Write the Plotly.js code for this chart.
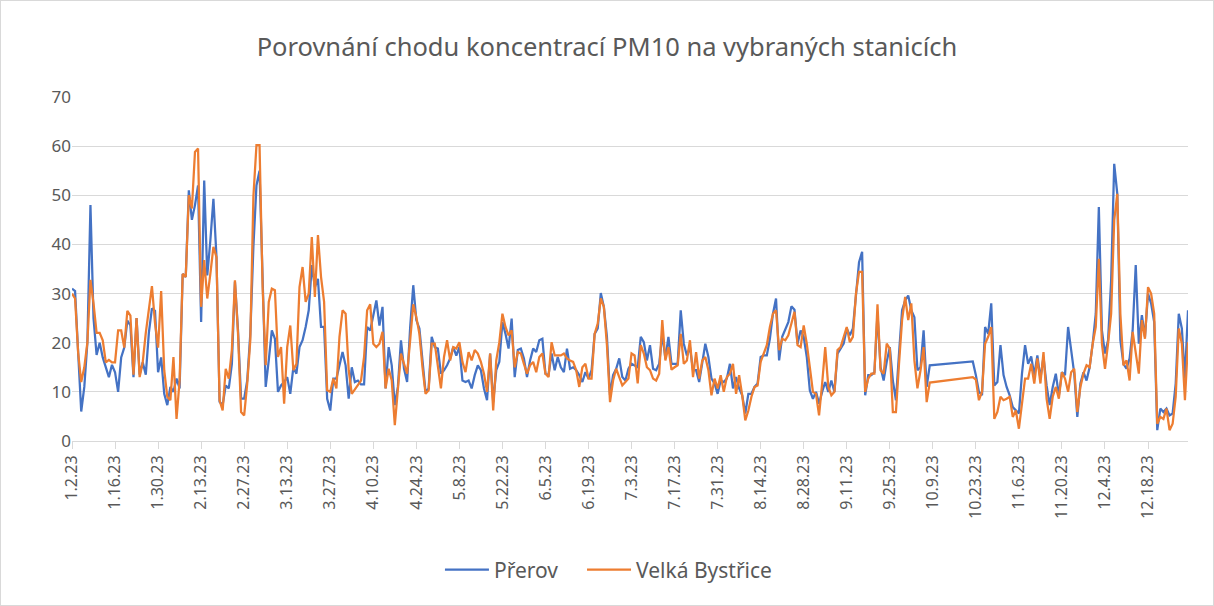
<!DOCTYPE html>
<html>
<head>
<meta charset="utf-8">
<script src="https://cdn.plot.ly/plotly-3.0.1.min.js"></script>
<style>
  html, body { margin: 0; padding: 0; background: #ffffff; }
  #frame { width: 1214px; height: 606px; box-sizing: border-box; border: 1px solid #d9d9d9; position: relative; overflow: hidden; }
  #chart { position: absolute; left: -1px; top: -1px; width: 1214px; height: 606px; }
</style>
</head>
<body>
<div id="frame"><div id="chart"></div></div>
<script>
// ---- Data (PM10 daily concentrations, µg/m3) ----
const seriesNames = ["Přerov", "Velká Bystřice"];
const startDateA = "2023-01-02";   // first day of first block
const startDateB = "2023-10-22";   // first day after the data gap

// Přerov, Jan 2 – Oct 8
const prerovJan = [31, 30.5, 18, 6, 11, 20, 48, 25, 17.5, 20, 17, 15, 13, 15.5, 14, 10, 17, 19, 24.5, 23.5, 13, 25, 13.5, 16, 13.5, 22, 27, 26.5, 14, 17, 9.6];
const prerovFeb = [7.3, 11, 10, 12.7, 10.7, 34, 33.4, 51, 45, 48, 52, 24.2, 53, 33.7, 40.8, 49.3, 37.4, 8, 7.3, 11.3, 10.7, 15.7, 32.4, 22.5, 8.6, 8.6, 12.3, 21.8, 39.5, 52];
const prerovMar = [55, 30, 11, 16.4, 22.5, 20.8, 10, 11.3, 12, 13, 9.6, 15, 13.7, 19.1, 20.5, 23.2, 26.6, 35.8, 31.3, 33, 23.2, 23.2, 8.6, 6.2, 12.7, 12.7, 15.7, 18.1, 15.4];
const prerovApr = [8.6, 15, 12, 12.3, 11.5, 11.5, 23.2, 22.5, 25.9, 28.6, 23.5, 27.3, 10.7, 19.1, 15.4, 7.3, 11, 20.5, 14.7, 12, 23.2, 31.7, 24.6, 22.9, 16.4, 10, 10.7, 21.2, 19.1, 18.8, 13.7];
const prerovMay = [14.4, 15.4, 16.8, 19.1, 17.4, 19.1, 12.3, 12, 12.3, 10.7, 13.4, 15.4, 14.4, 10.7, 8.3, 17.8, 7.9, 14.4, 16.1, 24.2, 21.8, 18.8, 24.9, 13, 18.5, 18.8, 16.8, 13, 16.4, 18.8];
const prerovJun = [18.1, 20.5, 20.8, 13.7, 13.4, 17.8, 14.4, 17.1, 15, 14, 18.8, 14.7, 15, 14.4, 13.4, 12, 14, 12.7, 14.4, 21.8, 22.9, 30.1, 27.3, 21.2, 9.3, 13.4, 14.7, 16.8, 13, 12.3];
const prerovJul = [14.7, 15.7, 15.4, 15, 21.2, 20.1, 16.4, 19.5, 14.7, 14.4, 15.7, 21.8, 16.8, 21.2, 15.7, 15.7, 15.7, 26.6, 19.8, 17.4, 19.1, 14.4, 14.4, 12, 15.7, 19.8, 17.1, 12.7, 11.7, 9.6];
const prerovAug = [12.3, 12, 12.7, 15.7, 10.7, 13, 10.7, 9.3, 5.6, 9.6, 9.6, 11, 11.7, 17.1, 17.4, 17.4, 20.8, 25.9, 29, 16.4, 21.2, 22.9, 24.2, 27.4, 26.7, 19.8, 22.5, 21.2, 17.1, 10.3];
const prerovSep = [8.6, 10, 7.6, 10, 12, 10, 12.3, 10, 17.8, 18.8, 19.8, 22.9, 21.5, 22.9, 29.6, 36.4, 38.5, 9.3, 13.4, 13.4, 14, 25.9, 15, 12.3, 16.1, 19.1, 12.3, 8.3, 17.8, 26.6];
const prerovOct = [28.6, 29.6, 26.6, 25.2, 14.4, 15, 22.5, 11, 15.4];
// Přerov, Oct 22 – Dec 31
const prerovOctLate = [16.2, 13.4, 10, 9.3, 23.2, 21.8, 28, 11.3];
const prerovNov = [12, 19.5, 13.4, 11, 9.3, 6.9, 6.2, 5.6, 13.7, 19.5, 15.7, 17.2, 13.4, 17.4, 12.7, 17.1, 11.3, 7.3, 11, 13.7, 9.3, 14, 13.4, 23.2, 18.5, 13.7, 4.9, 11.7, 14, 12.3];
const prerovDec = [15, 19.8, 25.9, 47.6, 22.5, 17.8, 20.5, 32.7, 56.4, 50.3, 20.5, 15.7, 14.7, 16.8, 22.5, 35.8, 19.8, 25.6, 21.2, 30, 28, 24.2, 2.2, 6.6, 5.9, 6.6, 5.2, 5.6, 11.7, 25.9, 22.9, 12.7, 26.6];

// Velká Bystřice, Jan 2 – Oct 8
const bystriceJan = [30, 29, 18, 12, 15, 20, 32.8, 28, 22, 22, 20.5, 16, 16.5, 16, 16, 22.5, 22.5, 19, 26.5, 25.5, 13.5, 25, 13, 16, 22, 27, 31.5, 24, 19, 30.5, 14.4];
const bystriceFeb = [9, 8.3, 17.1, 4.5, 12.3, 34, 33.4, 50, 47.3, 58.8, 59.5, 27.3, 36.8, 29, 34, 39.5, 37.4, 8.3, 6.2, 14.7, 12.7, 18.5, 32.7, 21.8, 5.9, 5.2, 11.7, 20.5, 49.7, 60.2];
const bystriceMar = [60.2, 31.3, 15.4, 28.3, 31, 30.7, 17.1, 19.1, 7.6, 19.1, 23.5, 14.4, 15.7, 31.3, 35.4, 28.3, 30, 41.5, 29.3, 41.9, 33.4, 28.3, 10.3, 10, 12.7, 10.7, 21.2, 26.6, 25.9];
const bystriceApr = [14.4, 9.6, 10.5, 11.3, 12.3, 17.1, 26.6, 27.8, 19.8, 19.1, 19.8, 22.2, 10.7, 14.7, 12.3, 3.2, 10.3, 17.8, 15.7, 13.7, 20.5, 27.8, 25.2, 21.8, 15, 9.6, 10.3, 19.8, 19.8, 15.7, 10.7];
const bystriceMay = [17.1, 20.5, 16.4, 19.1, 18.8, 20.1, 16.1, 14, 18.1, 16.4, 18.5, 17.8, 16.1, 13.7, 10, 17.8, 6.2, 16.4, 20.1, 25.9, 23.2, 21.5, 22.5, 15, 18.1, 17.8, 15.7, 13.7, 15.4, 16.1];
const bystriceJun = [14, 17.1, 17.8, 13.7, 13, 20.1, 17.4, 17.4, 17.4, 17.8, 16.8, 16.4, 16.1, 14.4, 11, 15, 15.7, 12.7, 12.7, 21.8, 23.9, 29, 27.3, 19.5, 7.9, 12.3, 14.7, 13, 11.3, 12];
const bystriceJul = [12.7, 17.8, 17.4, 11.7, 19.5, 17.8, 15, 14.4, 12.7, 12.3, 13.7, 24.6, 16.4, 19.1, 14.5, 15, 15.4, 21.8, 15.7, 16.4, 20.5, 13, 18.1, 12.7, 16.4, 17.1, 14.4, 9.3, 12.7, 10.7];
const bystriceAug = [13.4, 10, 13, 13.7, 15.7, 9.6, 13.4, 9.3, 4.2, 6.2, 9, 11, 11.3, 16.1, 17.8, 19.5, 23.2, 25.9, 26.6, 18.5, 20.8, 20.5, 21.5, 23.9, 26.3, 19.5, 19.1, 23.5, 19.8, 15];
const bystriceSep = [10, 9.6, 5.2, 11.7, 19.1, 11, 9.3, 10, 18.5, 19.1, 21.2, 23.2, 20.1, 21.2, 30, 34.4, 34.4, 10, 12.7, 13.7, 13.7, 27.8, 14.4, 13.7, 19.8, 18.8, 5.9, 5.9, 15.7, 24.6];
const bystriceOct = [29.3, 24.6, 28, 16.4, 10.7, 14.4, 19.1, 7.9, 11.9];
// Velká Bystřice, Oct 22 – Dec 31
const bystriceOctLate = [13, 12.5, 8.3, 10, 19.8, 21.2, 23.2, 4.5];
const bystriceNov = [5.9, 9, 8.3, 8.6, 9, 4.9, 6.2, 2.5, 8.3, 12.7, 12.7, 15.7, 11.7, 16.8, 11.7, 18.1, 8.6, 4.5, 9, 11, 8.6, 14, 12.7, 10, 14, 14.7, 5.9, 11, 13.7, 15.4];
const bystriceDec = [15, 19.8, 23.2, 37.1, 19.8, 14.7, 19.8, 25.9, 44.9, 50.3, 25.9, 15.4, 16.4, 12.3, 22.2, 17.8, 13.7, 24.6, 20.8, 31.3, 30, 25.9, 3.5, 4.9, 4.5, 6.6, 2.2, 3.5, 9, 22.9, 19.8, 8.3, 20.1];

const yTicks = [0, 10, 20, 30, 40, 50, 60, 70];

// ---- Build series ----
const prerovA = [].concat(prerovJan, prerovFeb, prerovMar, prerovApr, prerovMay, prerovJun, prerovJul, prerovAug, prerovSep, prerovOct);
const prerovB = [].concat(prerovOctLate, prerovNov, prerovDec);
const bystriceA = [].concat(bystriceJan, bystriceFeb, bystriceMar, bystriceApr, bystriceMay, bystriceJun, bystriceJul, bystriceAug, bystriceSep, bystriceOct);
const bystriceB = [].concat(bystriceOctLate, bystriceNov, bystriceDec);

function dayList(start, n) {
  const out = [];
  const base = new Date(start + "T00:00:00Z").getTime();
  for (let i = 0; i < n; i++) {
    out.push(new Date(base + i * 86400000).toISOString().slice(0, 10));
  }
  return out;
}
const datesA = dayList(startDateA, prerovA.length);
const datesB = dayList(startDateB, prerovB.length);
const dates = datesA.concat(datesB);

const traces = [
  { x: dates, y: prerovA.concat(prerovB), name: seriesNames[0], type: "scatter", mode: "lines",
    line: { color: "#4472C4", width: 2.25 }, legend: "legend" },
  { x: dates, y: bystriceA.concat(bystriceB), name: seriesNames[1], type: "scatter", mode: "lines",
    line: { color: "#ED7D31", width: 2.25 }, legend: "legend2" }
];

const fontFam = "'Noto Sans', 'Open Sans', sans-serif";
const legendFont = { family: fontFam, size: 21, color: "#595959" };
const layout = {
  width: 1214, height: 606,
  paper_bgcolor: "#ffffff", plot_bgcolor: "#ffffff",
  margin: { l: 72, r: 26, t: 97, b: 165 },
  title: { text: "Porovnání chodu koncentrací PM10 na vybraných stanicích",
           font: { family: fontFam, size: 25.5, color: "#595959" },
           x: 0.5, xanchor: "center", y: 0.922, yanchor: "middle" },
  showlegend: true,
  legend: { orientation: "h", x: 0.3297, xanchor: "left", y: -0.375, yanchor: "middle",
            itemwidth: 44, font: legendFont, bgcolor: "rgba(0,0,0,0)" },
  legend2: { orientation: "h", x: 0.457, xanchor: "left", y: -0.375, yanchor: "middle",
             itemwidth: 44, font: legendFont, bgcolor: "rgba(0,0,0,0)" },
  xaxis: {
    type: "date",
    range: [startDateA, "2023-12-31"],
    tick0: startDateA, dtick: 14 * 86400000,
    tickformat: "%-m.%-d.%y",
    tickangle: -90,
    tickfont: { family: fontFam, size: 16, color: "#595959" },
    showgrid: false, zeroline: false,
    showline: true, linecolor: "#d9d9d9", linewidth: 1,
    ticks: "outside", ticklen: 7, tickcolor: "#d9d9d9",
    fixedrange: true
  },
  yaxis: {
    range: [0, 70], tickvals: yTicks,
    tickfont: { family: fontFam, size: 17, color: "#595959" },
    showgrid: true, gridcolor: "#d9d9d9", gridwidth: 1,
    zeroline: false, showline: false, ticks: "", ticklen: 0,
    fixedrange: true
  },
  hovermode: false
};

Plotly.newPlot("chart", traces, layout, { staticPlot: true, displayModeBar: false });
</script>
</body>
</html>
